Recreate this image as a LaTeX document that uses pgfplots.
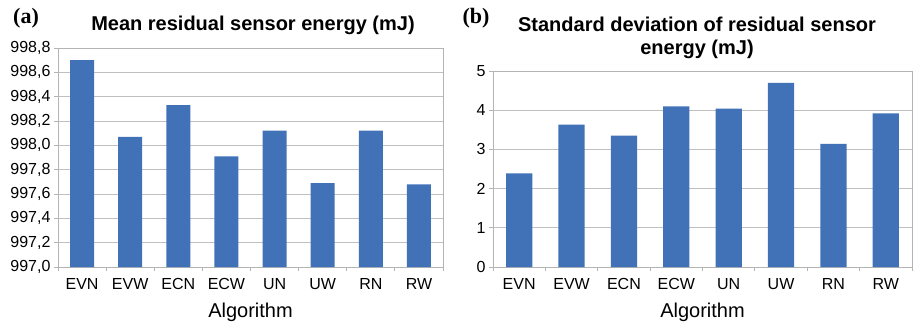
\documentclass[border=0pt]{standalone}
\usepackage{fontspec}
\setmainfont{Liberation Sans}
\newfontfamily\panelfont{Liberation Serif}
\usepackage{pgfplots}
\pgfplotsset{compat=1.18}

\definecolor{barblue}{HTML}{4171B7}
\definecolor{gridgray}{HTML}{C0C0C0}
\definecolor{framegray}{HTML}{B4B4B4}

\pgfplotsset{
  algstyle/.style={
    scale only axis,
    anchor=south west,
    ybar,
    bar width=0.5,
    xmin=-0.5, xmax=7.5,
    xtick={0,...,7},
    xticklabels={EVN,EVW,ECN,ECW,UN,UW,RN,RW},
    major x tick style={draw=none},
    minor xtick={-0.5,0.5,...,7.5},
    tick align=outside,
    minor tick length=4pt,
    major tick length=4pt,
    xtick pos=bottom, ytick pos=left,
    ymajorgrids,
    grid style={gridgray, line width=0.8pt},
    axis line style={framegray, line width=0.8pt},
    tick style={framegray, line width=0.8pt},
    tick label style={font=\fontsize{16}{19}\selectfont},
    xticklabel style={yshift=-4pt},
    /pgf/number format/assume math mode=true,
    xlabel={Algorithm},
    xlabel style={font=\fontsize{20}{24}\selectfont,
                  at={(axis description cs:0.5,0)}, anchor=center, yshift=-45pt},
    axis on top=false,
  }
}

\begin{document}
\begin{tikzpicture}
\useasboundingbox (0,0) rectangle (913pt,325pt);

% (a) mean residual energy
\begin{axis}[algstyle,
  at={(58pt,58pt)}, width=385pt, height=219pt,
  ymin=997, ymax=998.8,
  ytick={997,997.2,997.4,997.6,997.8,998,998.2,998.4,998.6,998.8},
  yticklabel style={/pgf/number format/.cd, use comma, fixed, fixed zerofill, precision=1},
]
\addplot[fill=barblue, draw=none] coordinates {
  (0,998.70) (1,998.07) (2,998.33) (3,997.91)
  (4,998.12) (5,997.69) (6,998.12) (7,997.68)};
\end{axis}

% (b) standard deviation of residual energy
\begin{axis}[algstyle,
  at={(493pt,58pt)}, width=419pt, height=196pt,
  ymin=0, ymax=5,
  ytick={0,1,2,3,4,5},
]
\addplot[fill=barblue, draw=none] coordinates {
  (0,2.39) (1,3.63) (2,3.35) (3,4.10)
  (4,4.04) (5,4.70) (6,3.14) (7,3.92)};
\end{axis}

% titles and panel letters
\node[font=\fontsize{20}{24}\selectfont\bfseries] at (253pt,300pt)
  {Mean residual sensor energy (mJ)};
\node[font=\fontsize{20}{23}\selectfont\bfseries, align=center] at (697pt,287pt)
  {Standard deviation of residual sensor\\energy (mJ)};
\node[font=\fontsize{22}{26}\selectfont\panelfont\bfseries] at (26pt,307pt) {(a)};
\node[font=\fontsize{22}{26}\selectfont\panelfont\bfseries] at (476pt,307pt) {(b)};
\end{tikzpicture}
\end{document}
